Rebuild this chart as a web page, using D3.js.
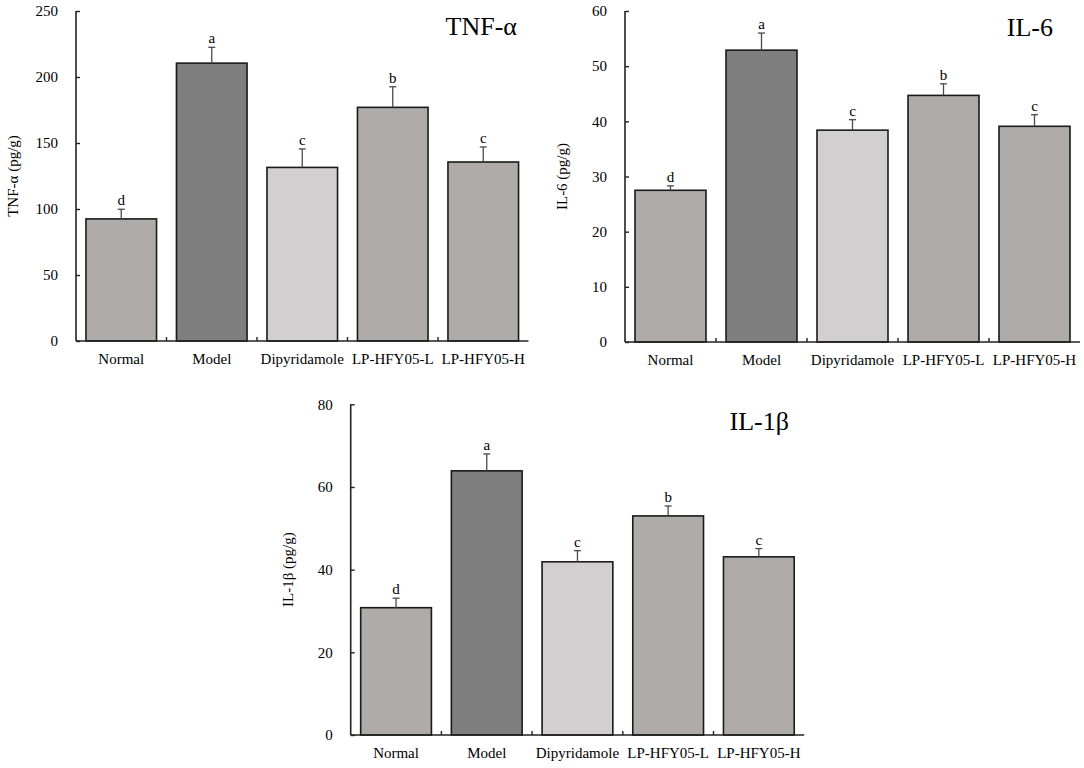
<!DOCTYPE html>
<html>
<head>
<meta charset="utf-8">
<script src="https://cdn.jsdelivr.net/npm/d3@7"></script>
<style>
  body { margin: 0; background: #fff; }
  svg text { font-family: "Liberation Serif", "Times New Roman", serif; fill: #000; }
</style>
</head>
<body>
<svg id="fig" width="1084" height="768"></svg>
<script>
// groups shared by all three panels
const groups = ['Normal', 'Model', 'Dipyridamole', 'LP-HFY05-L', 'LP-HFY05-H'];
const groupColors = ['#afabaa', '#7f7f7f', '#d1cfd0', '#afabaa', '#afabaa'];
const letters = ['d', 'a', 'c', 'b', 'c'];

// TNF-α (pg/g)
const tnfMean = [92.5, 210.5, 131.5, 177, 135.6];
const tnfErr = [7.3, 12, 14, 15.6, 11.4];
const tnfTicks = [0, 50, 100, 150, 200, 250];

// IL-6 (pg/g)
const il6Mean = [27.5, 52.9, 38.4, 44.7, 39.1];
const il6Err = [0.8, 3.1, 1.9, 2.1, 2.1];
const il6Ticks = [0, 10, 20, 30, 40, 50, 60];

// IL-1β (pg/g)
const il1Mean = [30.8, 63.9, 41.9, 53, 43.1];
const il1Err = [2.3, 4.1, 2.7, 2.4, 2.0];
const il1Ticks = [0, 20, 40, 60, 80];

const svg = d3.select('#fig');

function drawPanel(opt) {
  const g = svg.append('g');
  const x = d3.scaleBand()
    .domain(groups)
    .range([opt.left, opt.left + opt.band * groups.length])
    .padding(0);
  const y = d3.scaleLinear()
    .domain([0, d3.max(opt.ticks)])
    .range([opt.bottom, opt.top]);
  const barW = x.bandwidth() * 0.78;

  // bars
  g.selectAll('.bar')
    .data(opt.mean)
    .enter()
    .append('rect')
    .attr('x', (d, i) => x(groups[i]) + (x.bandwidth() - barW) / 2)
    .attr('y', d => y(d))
    .attr('width', barW)
    .attr('height', d => y(0) - y(d))
    .attr('fill', (d, i) => groupColors[i])
    .attr('stroke', '#1a1a1a')
    .attr('stroke-width', 1.6);

  // error bars (upper only)
  const cx = i => x(groups[i]) + x.bandwidth() / 2;
  opt.mean.forEach((m, i) => {
    const top = y(m + opt.err[i]);
    g.append('line')
      .attr('x1', cx(i)).attr('x2', cx(i))
      .attr('y1', y(m)).attr('y2', top)
      .attr('stroke', '#4a4a4a').attr('stroke-width', 1.3);
    g.append('line')
      .attr('x1', cx(i) - 3.5).attr('x2', cx(i) + 3.5)
      .attr('y1', top).attr('y2', top)
      .attr('stroke', '#4a4a4a').attr('stroke-width', 1.3);
    g.append('text')
      .attr('x', cx(i))
      .attr('y', top - 4)
      .attr('text-anchor', 'middle')
      .style('font-size', '15px')
      .text(letters[i]);
  });

  // y axis, ticks pointing inside
  const yAxis = g.append('g')
    .attr('transform', `translate(${opt.left},0)`)
    .call(d3.axisRight(y).tickValues(opt.ticks).tickSize(4).tickFormat(d3.format('d')));
  yAxis.select('.domain').remove();
  yAxis.selectAll('.tick line').attr('stroke', '#222').attr('stroke-width', 1.4);
  yAxis.selectAll('.tick text')
    .attr('x', -18)
    .attr('text-anchor', 'end')
    .style('font-size', '15px')
    .style('font-family', '"Liberation Serif", serif');
  g.append('line')
    .attr('x1', opt.left).attr('x2', opt.left)
    .attr('y1', y(d3.max(opt.ticks))).attr('y2', y(0))
    .attr('stroke', '#222').attr('stroke-width', 1.6);

  // x axis with small ticks between groups
  const x0 = x.range()[0], x1 = x.range()[1];
  g.append('line')
    .attr('x1', x0).attr('x2', x1)
    .attr('y1', y(0)).attr('y2', y(0))
    .attr('stroke', '#222').attr('stroke-width', 1.6);
  groups.slice(1).forEach(k => {
    g.append('line')
      .attr('x1', x(k)).attr('x2', x(k))
      .attr('y1', y(0)).attr('y2', y(0) - 4)
      .attr('stroke', '#222').attr('stroke-width', 1.4);
  });
  g.selectAll('.xlab')
    .data(groups)
    .enter()
    .append('text')
    .attr('x', d => x(d) + x.bandwidth() / 2)
    .attr('y', y(0) + 23)
    .attr('text-anchor', 'middle')
    .style('font-size', '15px')
    .text(d => d);

  // axis title
  const midY = (y(0) + y(d3.max(opt.ticks))) / 2;
  g.append('text')
    .attr('transform', `translate(${opt.left - 58},${midY}) rotate(-90)`)
    .attr('text-anchor', 'middle')
    .style('font-size', '15px')
    .text(opt.yTitle);

  // panel title
  g.append('text')
    .attr('x', opt.titleX)
    .attr('y', opt.titleY)
    .attr('text-anchor', 'end')
    .style('font-size', '26px')
    .text(opt.title);
}

drawPanel({
  left: 76, band: 90.5, top: 11, bottom: 341,
  mean: tnfMean, err: tnfErr, ticks: tnfTicks,
  yTitle: 'TNF-α (pg/g)', title: 'TNF-α', titleX: 517, titleY: 35
});

drawPanel({
  left: 625, band: 91, top: 11, bottom: 342,
  mean: il6Mean, err: il6Err, ticks: il6Ticks,
  yTitle: 'IL-6 (pg/g)', title: 'IL-6', titleX: 1053, titleY: 36
});

drawPanel({
  left: 350.7, band: 90.7, top: 404.3, bottom: 735,
  mean: il1Mean, err: il1Err, ticks: il1Ticks,
  yTitle: 'IL-1β (pg/g)', title: 'IL-1β', titleX: 789, titleY: 430
});
</script>
</body>
</html>
